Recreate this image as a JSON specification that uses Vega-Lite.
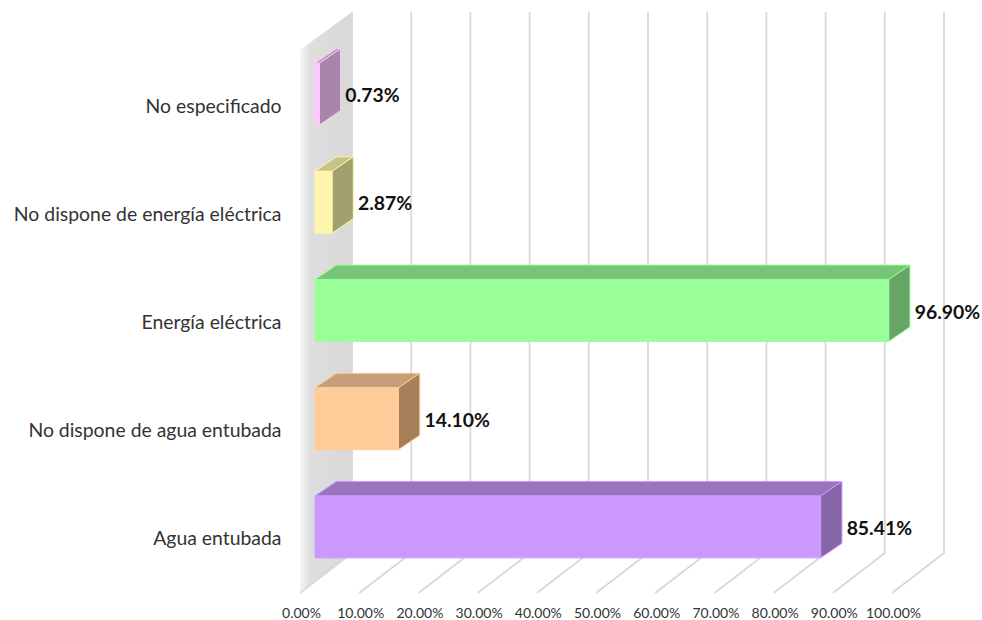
{"$schema":"https://vega.github.io/schema/vega-lite/v6.json","width":592,"height":541,"autosize":"none","padding":{"left":315,"top":40,"right":75,"bottom":39},"background":"white","config":{"view":{"stroke":null},"font":"Lato"},
"datasets":{
"barras":[{"categoria":"Agua entubada","valor":85.41,"etiqueta":"85.41%"},{"categoria":"No dispone de agua entubada","valor":14.10,"etiqueta":"14.10%"},{"categoria":"Energía eléctrica","valor":96.90,"etiqueta":"96.90%"},{"categoria":"No dispone de energía eléctrica","valor":2.87,"etiqueta":"2.87%"},{"categoria":"No especificado","valor":0.73,"etiqueta":"0.73%"}],
"pared":[{"x":-2.53,"y":-0.111,"y2":4.907},{"x":6.25,"y":0.259,"y2":5.259}],
"rejilla":[
{"t":0,"p":0,"x":-2.53,"y":-0.111},{"t":0,"p":1,"x":6.25,"y":0.259},{"t":0,"p":2,"x":6.25,"y":5.259},
{"t":10,"p":0,"x":7.47,"y":-0.111},{"t":10,"p":1,"x":16.25,"y":0.259},{"t":10,"p":2,"x":16.25,"y":5.259},
{"t":20,"p":0,"x":17.47,"y":-0.111},{"t":20,"p":1,"x":26.25,"y":0.259},{"t":20,"p":2,"x":26.25,"y":5.259},
{"t":30,"p":0,"x":27.47,"y":-0.111},{"t":30,"p":1,"x":36.25,"y":0.259},{"t":30,"p":2,"x":36.25,"y":5.259},
{"t":40,"p":0,"x":37.47,"y":-0.111},{"t":40,"p":1,"x":46.25,"y":0.259},{"t":40,"p":2,"x":46.25,"y":5.259},
{"t":50,"p":0,"x":47.47,"y":-0.111},{"t":50,"p":1,"x":56.25,"y":0.259},{"t":50,"p":2,"x":56.25,"y":5.259},
{"t":60,"p":0,"x":57.47,"y":-0.111},{"t":60,"p":1,"x":66.25,"y":0.259},{"t":60,"p":2,"x":66.25,"y":5.259},
{"t":70,"p":0,"x":67.47,"y":-0.111},{"t":70,"p":1,"x":76.25,"y":0.259},{"t":70,"p":2,"x":76.25,"y":5.259},
{"t":80,"p":0,"x":77.47,"y":-0.111},{"t":80,"p":1,"x":86.25,"y":0.259},{"t":80,"p":2,"x":86.25,"y":5.259},
{"t":90,"p":0,"x":87.47,"y":-0.111},{"t":90,"p":1,"x":96.25,"y":0.259},{"t":90,"p":2,"x":96.25,"y":5.259},
{"t":100,"p":0,"x":97.47,"y":-0.111},{"t":100,"p":1,"x":106.25,"y":0.259},{"t":100,"p":2,"x":106.25,"y":5.259}],
"lados":[
{"categoria":"Agua entubada","x":85.41,"y":0.214,"y2":0.786},{"categoria":"Agua entubada","x":89.01,"y":0.348,"y2":0.920},
{"categoria":"No dispone de agua entubada","x":14.10,"y":1.214,"y2":1.786},{"categoria":"No dispone de agua entubada","x":17.70,"y":1.348,"y2":1.920},
{"categoria":"Energía eléctrica","x":96.90,"y":2.214,"y2":2.786},{"categoria":"Energía eléctrica","x":100.50,"y":2.348,"y2":2.920},
{"categoria":"No dispone de energía eléctrica","x":2.87,"y":3.214,"y2":3.786},{"categoria":"No dispone de energía eléctrica","x":6.47,"y":3.348,"y2":3.920},
{"categoria":"No especificado","x":0.73,"y":4.214,"y2":4.786},{"categoria":"No especificado","x":4.33,"y":4.348,"y2":4.920}],
"techos":[
{"categoria":"Agua entubada","y":0.786,"x":0,"x2":85.41},{"categoria":"Agua entubada","y":0.920,"x":3.6,"x2":89.01},
{"categoria":"No dispone de agua entubada","y":1.786,"x":0,"x2":14.10},{"categoria":"No dispone de agua entubada","y":1.920,"x":3.6,"x2":17.70},
{"categoria":"Energía eléctrica","y":2.786,"x":0,"x2":96.90},{"categoria":"Energía eléctrica","y":2.920,"x":3.6,"x2":100.50},
{"categoria":"No dispone de energía eléctrica","y":3.786,"x":0,"x2":2.87},{"categoria":"No dispone de energía eléctrica","y":3.920,"x":3.6,"x2":6.47},
{"categoria":"No especificado","y":4.786,"x":0,"x2":0.73},{"categoria":"No especificado","y":4.920,"x":3.6,"x2":4.33}]
},
"resolve":{"scale":{"y":"independent","color":"independent"}},
"layer":[
{"data":{"name":"pared"},"mark":{"type":"area","orient":"vertical","fill":{"gradient":"linear","x1":0,"x2":1,"y1":0,"y2":0,"stops":[{"offset":0,"color":"#f5f5f5"},{"offset":0.2,"color":"#dedede"},{"offset":0.85,"color":"#d9d9d9"},{"offset":1,"color":"#d9d9d9"}]}},
"encoding":{"x":{"field":"x","type":"quantitative","stack":null,"scale":{"domain":[0,100],"nice":false,"zero":false},"axis":{"values":[0,10,20,30,40,50,60,70,80,90,100],"labelExpr":"format(datum.value,'.2f')+'%'","title":null,"grid":false,"domain":false,"ticks":false,"labelFontSize":14,"labelColor":"#333333","labelPadding":25,"labelOffset":-14,"labelOverlap":false,"labelFlush":false,"labelBound":false}},"y":{"field":"y","type":"quantitative","stack":null,"scale":{"domain":[0,5],"nice":false,"zero":false},"axis":null},"y2":{"field":"y2"}}},
{"data":{"name":"rejilla"},"mark":{"type":"line","stroke":"#d9d9d9","strokeWidth":1.8},
"encoding":{"x":{"field":"x","type":"quantitative"},"y":{"field":"y","type":"quantitative","scale":{"domain":[0,5],"nice":false,"zero":false},"axis":null},"detail":{"field":"t"},"order":{"field":"p"}}},
{"data":{"name":"techos"},"mark":{"type":"area","orient":"horizontal","strokeWidth":1},
"encoding":{"y":{"field":"y","type":"quantitative","stack":null,"scale":{"domain":[0,5],"nice":false,"zero":false},"axis":null},"x":{"field":"x","type":"quantitative","stack":null},"x2":{"field":"x2"},
"color":{"field":"categoria","type":"nominal","legend":null,"scale":{"domain":["Agua entubada","No dispone de agua entubada","Energía eléctrica","No dispone de energía eléctrica","No especificado"],"range":["#9c74bd","#c69e77","#77c677","#c6c38a","#b890b8"]}},
"stroke":{"field":"categoria","type":"nominal","legend":null,"scale":{"domain":["Agua entubada","No dispone de agua entubada","Energía eléctrica","No dispone de energía eléctrica","No especificado"],"range":["#cc99ff","#ffcc99","#99ff99","#fff6ad","#ffc8ff"]}}}},
{"data":{"name":"lados"},"mark":{"type":"area","orient":"vertical","strokeWidth":1},
"encoding":{"x":{"field":"x","type":"quantitative","stack":null},"y":{"field":"y","type":"quantitative","stack":null,"scale":{"domain":[0,5],"nice":false,"zero":false},"axis":null},"y2":{"field":"y2"},
"color":{"field":"categoria","type":"nominal","legend":null,"scale":{"domain":["Agua entubada","No dispone de agua entubada","Energía eléctrica","No dispone de energía eléctrica","No especificado"],"range":["#8565a5","#a68059","#66a566","#a3a070","#a986a9"]}},
"stroke":{"field":"categoria","type":"nominal","legend":null,"scale":{"domain":["Agua entubada","No dispone de agua entubada","Energía eléctrica","No dispone de energía eléctrica","No especificado"],"range":["#cc99ff","#ffcc99","#99ff99","#fff6ad","#ffc8ff"]}}}},
{"data":{"name":"barras"},"mark":{"type":"bar","strokeWidth":1},
"encoding":{"x":{"field":"valor","type":"quantitative"},
"y":{"field":"categoria","type":"nominal","sort":["No especificado","No dispone de energía eléctrica","Energía eléctrica","No dispone de agua entubada","Agua entubada"],"scale":{"paddingInner":0.428,"paddingOuter":0.214},"axis":{"title":null,"grid":false,"domain":false,"ticks":false,"labelFontSize":19.4,"labelColor":"#333333","labelPadding":34,"labelOffset":12.5,"labelLimit":320}},
"color":{"field":"categoria","type":"nominal","legend":null,"scale":{"domain":["Agua entubada","No dispone de agua entubada","Energía eléctrica","No dispone de energía eléctrica","No especificado"],"range":["#cc99ff","#ffcc99","#99ff99","#fff6ad","#ffc8ff"]}},
"stroke":{"field":"categoria","type":"nominal","legend":null,"scale":{"domain":["Agua entubada","No dispone de agua entubada","Energía eléctrica","No dispone de energía eléctrica","No especificado"],"range":["#cc99ff","#ffcc99","#99ff99","#fff6ad","#ffc8ff"]}}}},
{"data":{"name":"barras"},"mark":{"type":"text","align":"left","baseline":"middle","dx":26,"dy":2,"fontSize":19.4,"fontWeight":"bold","color":"#111111"},
"encoding":{"x":{"field":"valor","type":"quantitative"},"y":{"field":"categoria","type":"nominal","sort":["No especificado","No dispone de energía eléctrica","Energía eléctrica","No dispone de agua entubada","Agua entubada"],"scale":{"paddingInner":0.428,"paddingOuter":0.214},"axis":null},"text":{"field":"etiqueta"}}}
]}
